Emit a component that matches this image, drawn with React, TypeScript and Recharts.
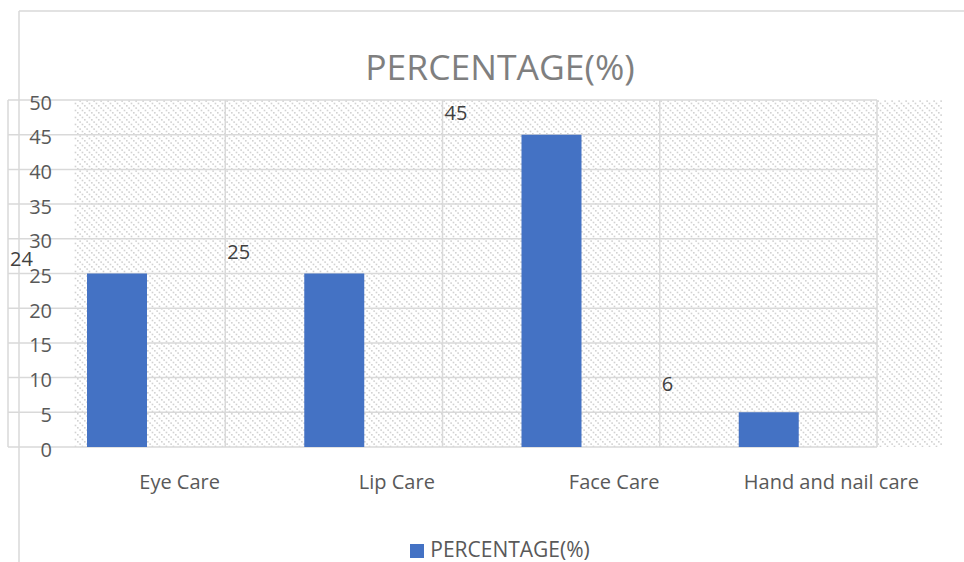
import { ComposedChart, Bar, Line, XAxis, YAxis, CartesianGrid, Legend, LabelList } from "recharts";

const CATEGORIES = ["Eye Care", "Lip Care", "Face Care", "Hand and nail care"];
const PERCENTAGES = [25, 25, 45, 5];
const LABEL_VALUES = [24, 25, 45, 6];
const Y_TICKS = [0, 5, 10, 15, 20, 25, 30, 35, 40, 45, 50];

const W = 964;
const H = 562;
const M = { top: 100, right: 87, bottom: 75, left: 7 };
const BAND = (W - 8 - M.right) / CATEGORIES.length;
const FONT = "'Open Sans', 'Noto Sans', sans-serif";
const GRID = "#d9d9d9";
const TEXT = "#595959";

const data = CATEGORIES.map((category, i) => ({
  category,
  pct: PERCENTAGES[i],
  label: LABEL_VALUES[i],
}));

const YTick = ({ y, payload }: any) => (
  <text x={52} y={y + 2} textAnchor="end" dominantBaseline="central" fontSize={20} fill={TEXT} fontFamily={FONT}>
    {payload.value}
  </text>
);

const XTick = ({ x, y, payload }: any) => (
  <text x={x + 63} y={y + 34} textAnchor="middle" dominantBaseline="central" fontSize={20} fill={TEXT} fontFamily={FONT}>
    {payload.value}
  </text>
);

// excel put the labels at the left edge of each band, a bit above their value
const DataLabel = ({ x, y, value }: any) => (
  <text x={x - BAND / 2 + 2} y={y - 22} dominantBaseline="central" fontSize={20} fill="#404040" fontFamily={FONT}>
    {value}
  </text>
);

export default function App() {
  return (
    <div style={{ position: "absolute", left: 0, top: 0, width: W, height: H, background: "#fff", fontFamily: FONT, overflow: "hidden" }}>
      <svg width={W} height={H} style={{ position: "absolute", left: 0, top: 0 }}>
        <defs>
          <pattern id="hatch" patternUnits="userSpaceOnUse" width={7} height={7}>
            <rect width={7} height={7} fill="#fff" />
            <rect x={0} y={0} width={1.6} height={1.6} fill="#d2d2d2" />
            <rect x={2.33} y={2.33} width={1.6} height={1.6} fill="#d2d2d2" />
            <rect x={4.67} y={4.67} width={1.6} height={1.6} fill="#d2d2d2" />
          </pattern>
        </defs>
        <line x1={19} y1={11} x2={W} y2={11} stroke={GRID} strokeWidth={1.5} />
        <line x1={19} y1={11} x2={19} y2={H} stroke={GRID} strokeWidth={1.5} />
        <rect x={74} y={100} width={868} height={347} fill="url(#hatch)" />
        <text x={500} y={66} textAnchor="middle" dominantBaseline="central" fontSize={35.5} fill="#7f7f7f" fontFamily={FONT}>
          PERCENTAGE(%)
        </text>
      </svg>
      <div style={{ position: "absolute", left: 0, top: 0 }}>
        <ComposedChart width={W} height={H} data={data} margin={M}>
          <CartesianGrid
            stroke={GRID}
            strokeWidth={1.5}
            verticalCoordinatesGenerator={({ offset }: any) =>
              [0, 1, 2, 3, 4].map((i) => offset.left + (i * offset.width) / CATEGORIES.length)
            }
          />
          <XAxis dataKey="category" height={40} axisLine={false} tickLine={false} tickSize={0} tickMargin={0} tick={<XTick />} interval={0} />
          <YAxis width={1} domain={[0, 50]} ticks={Y_TICKS} interval={0} axisLine={false} tickLine={false} tickSize={0} tickMargin={0} tick={<YTick />} />
          <Legend
            verticalAlign="middle"
            align="center"
            layout="horizontal"
            iconType="square"
            iconSize={14}
            wrapperStyle={{ top: 538, left: 45, width: 920, fontSize: 21, lineHeight: "22px", fontFamily: FONT }}
            formatter={(v: string) => <span style={{ color: TEXT, marginLeft: 2 }}>{v}</span>}
          />
          <Bar dataKey="pct" name="PERCENTAGE(%)" fill="#4472c4" barSize={60} isAnimationActive={false} />
          <Line dataKey="label" stroke="none" dot={false} activeDot={false} legendType="none" isAnimationActive={false}>
            <LabelList dataKey="label" content={<DataLabel />} />
          </Line>
        </ComposedChart>
      </div>
    </div>
  );
}
